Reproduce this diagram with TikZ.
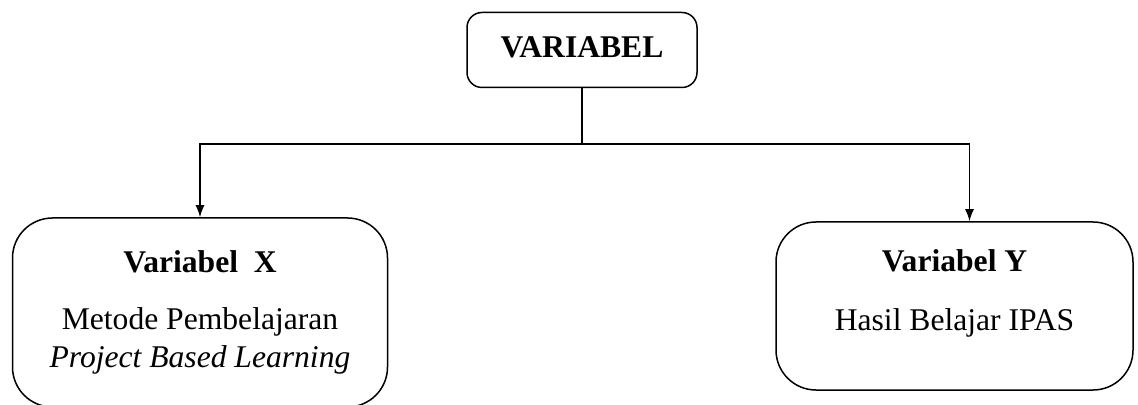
\documentclass[tikz,border=0pt]{standalone}
\usepackage{fontspec}
\setmainfont{Liberation Serif}
\usepackage{tikz}
\usetikzlibrary{
  arrows.meta,
  positioning
}
\tikzset{
    topbox/.style={draw, line width=0.75pt, rounded corners=7.5pt, minimum width=115pt, minimum height=37.5pt, align=center, font=\fontsize{15.8}{18.8}\selectfont\bfseries},
    varbox/.style={draw, line width=0.75pt, rounded corners=20pt, align=center, font=\fontsize{15.8}{18.8}\selectfont},
    link/.style={line width=0.75pt},
    linkarrow/.style={line width=0.75pt, -{Latex[length=6pt,width=4.5pt]}}
}

\begin{document}
\begin{tikzpicture}[x=0.5pt, y=-0.5pt]
            \useasboundingbox (0,0) rectangle (1138,405);
            % main box
            \node[topbox, text depth=3pt] (var) at (582,50) {VARIABEL};
            % the two variables
            \node[varbox, minimum width=187.5pt, minimum height=94.5pt] (varx) at (200,312.5) {
                \textbf{Variabel\ \ X}\\[9.5pt]
                Metode Pembelajaran\\
                \textit{Project Based Learning}
            };
            \node[varbox, minimum width=178.5pt, minimum height=84pt, text height=28pt] (vary) at (954.5,306) {
                \textbf{Variabel Y}\\[11pt]
                Hasil Belajar IPAS
            };
            % connectors
            \coordinate (split) at (var.south |- 0,144);
            \draw[link] (var.south) -- (split);
            \draw[linkarrow] (split) -| (varx.north);
            \draw[linkarrow] (split) -| ([xshift=7.5pt]vary.north);
        \end{tikzpicture}
\end{document}
